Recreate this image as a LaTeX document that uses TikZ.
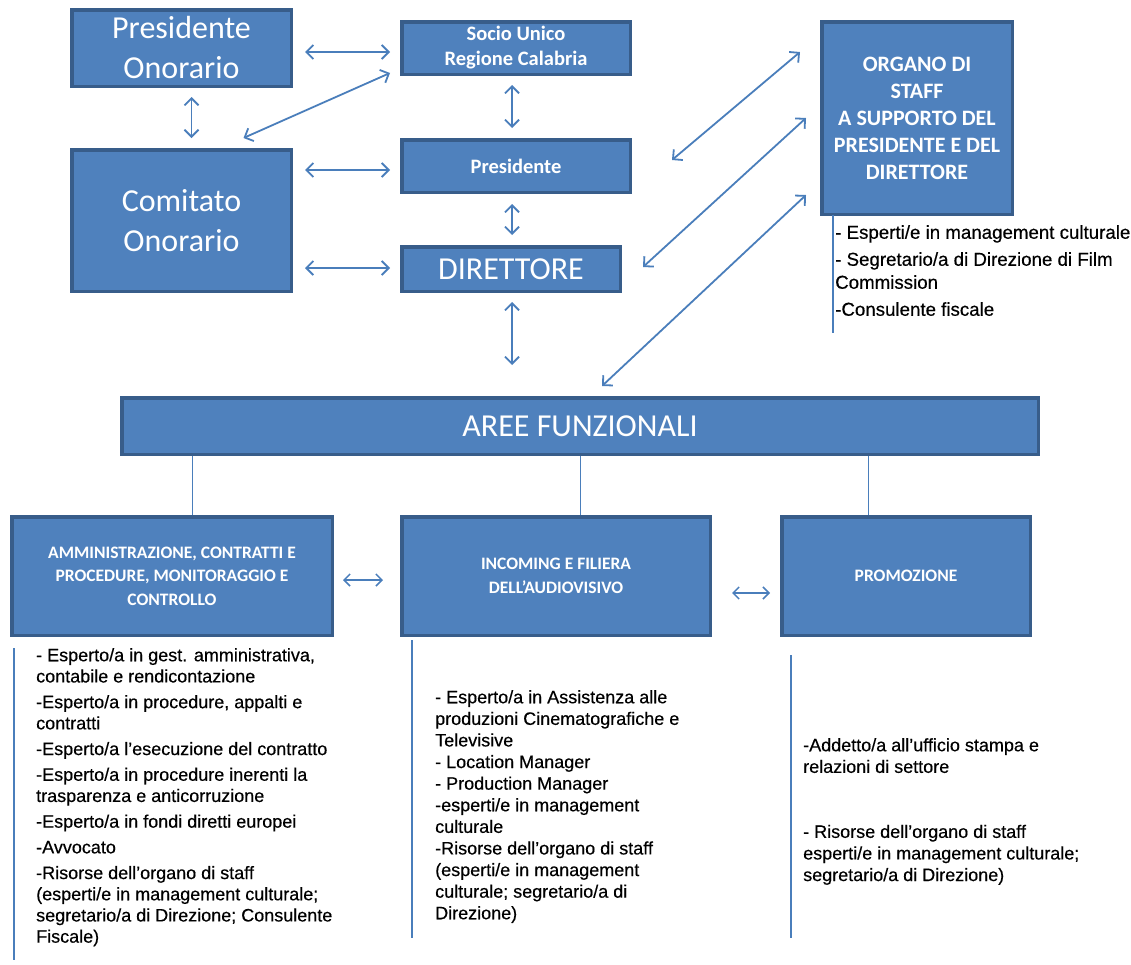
\documentclass[tikz,border=0pt]{standalone}
\usepackage{fontspec}
\setmainfont{Liberation Sans}
\newfontfamily\calibri{Carlito}
\newfontfamily\listfont[FakeBold=0.4]{Liberation Sans}
\usetikzlibrary{arrows.meta,positioning}
\definecolor{boxfill}{HTML}{4F81BD}
\definecolor{boxedge}{HTML}{385D8A}
\definecolor{linkblue}{HTML}{4A7EBB}
\begin{document}
\begin{tikzpicture}[x=1pt,y=-1pt,
        box/.style={draw=boxedge,line width=3.5pt,fill=boxfill,text=white,align=center,inner sep=0pt},
        bigtext/.style={font=\calibri\fontsize{32}{40}\selectfont},
        midtext/.style={font=\calibri\bfseries\fontsize{20.5}{25}\selectfont},
        stafftext/.style={font=\calibri\bfseries\fontsize{22}{27}\selectfont},
        areatext/.style={font=\calibri\bfseries\fontsize{17.5}{23.5}\selectfont},
        link/.style={draw=linkblue,line width=1.8pt,{Straight Barb[length=7pt,width=14pt]}-{Straight Barb[length=7pt,width=14pt]}},
        shortlink/.style={draw=linkblue,line width=1.5pt,{Straight Barb[length=6pt,width=12pt]}-{Straight Barb[length=6pt,width=12pt]}},
        tie/.style={draw=linkblue,line width=1pt},
        listtext/.style={anchor=north west,inner sep=0pt,align=left,text=black}]
    \useasboundingbox (0,0) rectangle (1131,964);

    \node[box,bigtext,minimum width=219.5pt,minimum height=76.5pt] (presonor) at (181.5,48) {Presidente\\Onorario};
    \node[box,bigtext,minimum width=219.5pt,minimum height=141.5pt] (comitato) at (181.5,220.5) {Comitato\\Onorario};
    \node[box,midtext,minimum width=228.5pt,minimum height=52.5pt] (socio) at (516,48) {Socio Unico\\Regione Calabria};
    \node[box,midtext,minimum width=228.5pt,minimum height=52.5pt] (pres) at (516,166) {Presidente};
    \node[box,bigtext,minimum width=218.5pt,minimum height=44.5pt] (dir) at (511,269) {DIRETTORE};
    \node[box,stafftext,minimum width=190.5pt,minimum height=192.5pt] (staff) at (917,118) {ORGANO DI\\STAFF\\A SUPPORTO DEL\\PRESIDENTE E DEL\\DIRETTORE};
    \node[box,bigtext,minimum width=916.5pt,minimum height=56.5pt] (aree) at (580,426) {AREE FUNZIONALI};
    \node[box,areatext,minimum width=320.5pt,minimum height=118.5pt] (amm) at (172,576) {AMMINISTRAZIONE, CONTRATTI E\\PROCEDURE, MONITORAGGIO E\\CONTROLLO};
    \node[box,areatext,minimum width=308.5pt,minimum height=118.5pt] (inc) at (556,576) {INCOMING E FILIERA\\DELL’AUDIOVISIVO};
    \node[box,areatext,minimum width=248.5pt,minimum height=118.5pt] (promo) at (906,576) {PROMOZIONE};

    \draw[link] ([xshift=12pt,yshift=-4pt]presonor.east) -- ([xshift=-10pt,yshift=-4pt]socio.west);
    \draw[link] ([xshift=10pt,yshift=-9pt]presonor.south) -- ([xshift=10pt,yshift=10pt]comitato.north);
    \draw[link] ([xshift=62pt,yshift=10pt]comitato.north) -- ([xshift=-10pt,yshift=3pt]socio.south west);
    \draw[link] ([xshift=12pt,yshift=50.5pt]comitato.east) -- ([xshift=-10pt,yshift=-4pt]pres.west);
    \draw[link] ([xshift=12pt,yshift=-47.5pt]comitato.east) -- ([xshift=-10pt,yshift=1pt]dir.west);
    \draw[link] ([xshift=-4pt,yshift=-9pt]socio.south) -- ([xshift=-4pt,yshift=10pt]pres.north);
    \draw[link] ([xshift=-4pt,yshift=-10pt]pres.south) -- ([xshift=1pt,yshift=10pt]dir.north);
    \draw[link] ([xshift=1pt,yshift=-9pt]dir.south) -- ([xshift=-68pt,yshift=31pt]aree.north);
    \draw[link] ([xshift=40pt,yshift=6pt]pres.east) -- ([xshift=-20pt,yshift=-32pt]staff.north west);
    \draw[link] ([xshift=21pt,yshift=2pt]dir.east) -- ([xshift=-14pt]staff.west);
    \draw[link] ([xshift=22pt,yshift=10pt]aree.north) -- ([xshift=-14pt,yshift=21pt]staff.south west);
    \draw[shortlink] ([xshift=9pt,yshift=-4pt]amm.east) -- ([xshift=-17pt,yshift=-4pt]inc.west);
    \draw[shortlink] ([xshift=20pt,yshift=-17pt]inc.east) -- ([xshift=-10pt,yshift=-17pt]promo.west);

    \foreach \b/\dx in {amm/20,inc/24,promo/-38}
        \draw[tie] ([xshift=\dx pt]\b.north) -- ([xshift=\dx pt]\b.north |- aree.south);

    \node[listtext,font=\listfont\fontsize{18.7}{23}\selectfont] (stafflist) at (835,225) {- Esperti/e in management culturale\\[4pt]
        - Segretario/a di Direzione di Film\\
        Commission\\[4pt]
        -Consulente fiscale};
    \node[listtext,font=\listfont\fontsize{18}{21.2}\selectfont] (ammlist) at (36,648) {- Esperto/a in gest. amministrativa,\\
        contabile e rendicontazione\\[4.5pt]
        -Esperto/a in procedure, appalti e\\
        contratti\\[4.5pt]
        -Esperto/a l’esecuzione del contratto\\[4.5pt]
        -Esperto/a in procedure inerenti la\\
        trasparenza e anticorruzione\\[4.5pt]
        -Esperto/a in fondi diretti europei\\[4.5pt]
        -Avvocato\\[4.5pt]
        -Risorse dell’organo di staff\\
        (esperti/e in management culturale;\\
        segretario/a di Direzione; Consulente\\
        Fiscale)};
    \node[listtext,font=\listfont\fontsize{18}{21.6}\selectfont] (inclist) at (435,690) {- Esperto/a in Assistenza alle\\
        produzioni Cinematografiche e\\
        Televisive\\
        - Location Manager\\
        - Production Manager\\
        -esperti/e in management\\
        culturale\\
        -Risorse dell’organo di staff\\
        (esperti/e in management\\
        culturale; segretario/a di\\
        Direzione)};
    \node[listtext,font=\listfont\fontsize{18}{21.6}\selectfont] (promolist) at (803,738) {-Addetto/a all’ufficio stampa e\\
        relazioni di settore\\[43.4pt]
        - Risorse dell’organo di staff\\
        esperti/e in management culturale;\\
        segretario/a di Direzione)};

    \draw[tie,line width=1.2pt] (833,215) -- (833,333);
    \draw[tie,line width=1.2pt] (14,648) -- (14,960);
    \draw[tie,line width=1.2pt] (412,640) -- (412,938);
    \draw[tie,line width=1.2pt] (791,655) -- (791,938);
\end{tikzpicture}
\end{document}
